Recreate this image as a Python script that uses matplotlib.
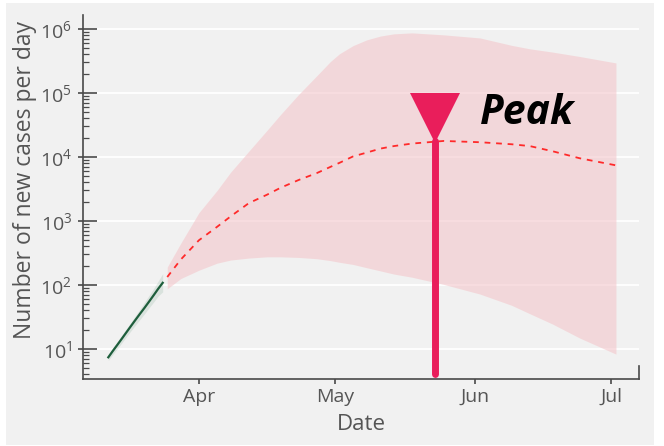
import matplotlib
matplotlib.use('Agg')
import matplotlib.pyplot as plt
import matplotlib.dates as mdates
import matplotlib.transforms as mtransforms
from matplotlib.patches import Rectangle
from matplotlib.ticker import LogLocator, LogFormatterMathtext, NullFormatter
import pandas as pd

# ---------------- data ----------------
obs_dates = pd.date_range('2020-03-12', '2020-03-24', freq='D')
obs_cases = [7.4, 9.3, 11.6, 14.5, 18.2, 22.8, 28.5, 35.5, 44, 55, 69, 87, 108]
obs_low = [6.6, 8.2, 10.1, 12.5, 15.5, 19.2, 23.7, 29, 35.5, 44, 54, 67, 78]
obs_high = [8.2, 10.4, 13.1, 16.5, 20.8, 26.3, 33.3, 42, 54, 69, 88, 115, 150]

fc_dates = pd.to_datetime([
    '2020-03-25', '2020-03-28', '2020-04-01', '2020-04-05', '2020-04-08',
    '2020-04-12', '2020-04-16', '2020-04-19', '2020-04-23', '2020-04-27',
    '2020-04-30', '2020-05-02', '2020-05-05', '2020-05-08', '2020-05-11',
    '2020-05-14', '2020-05-18', '2020-05-25', '2020-06-02', '2020-06-09',
    '2020-06-13', '2020-06-18', '2020-06-24', '2020-07-02'])
fc_median = [133, 250, 500, 810, 1180, 1900, 2570, 3300, 4370, 5600,
             7000, 8100, 10200, 11700, 13500, 14800, 16200, 17800, 17000,
             15800, 14800, 12300, 9550, 7400]
fc_low = [87, 126, 170, 219, 245, 263, 275, 275, 269, 257, 240, 226, 209,
          186, 166, 148, 132, 102, 72, 48, 35.5, 24.5, 14.8, 8.3]
fc_high = [190, 450, 1350, 3000, 5800, 12300, 26000, 46000, 95000, 186000,
           310000, 410000, 550000, 676000, 775000, 840000, 870000, 810000,
           725000, 555000, 490000, 436000, 372000, 295000]

peak_date = pd.Timestamp('2020-05-23')
peak_value = 17500
peak_top = 1e5
peak_base = 4

month_ticks = pd.to_datetime(['2020-04-01', '2020-05-01', '2020-06-01', '2020-07-01'])
x_limits = pd.to_datetime(['2020-03-06 10:00', '2020-07-07 02:00'])
y_limits = (3.39, 1.655e6)

# ---------------- style ----------------
plt.rcParams['font.family'] = ['Open Sans', 'DejaVu Sans']
plt.rcParams['mathtext.default'] = 'regular'
bg = '#f1f1f1'
txt = '#555555'
axc = '#4a4a4a'

fig = plt.figure(figsize=(6.64, 4.46), dpi=100, facecolor='white')
fig.patches.append(Rectangle((6 / 664, 1 - 445 / 446), 648 / 664, 442 / 446,
                             transform=fig.transFigure, facecolor=bg,
                             edgecolor='none', zorder=-10))
ax = fig.add_axes([83 / 664, 1 - 379 / 446, 556 / 664, 364 / 446])
ax.set_facecolor(bg)
ax.set_yscale('log')
ax.set_xlim(x_limits[0], x_limits[1])
ax.set_ylim(*y_limits)

ax.yaxis.grid(True, which='major', color='white', linewidth=1.3, zorder=0)
ax.xaxis.grid(False)
ax.set_axisbelow(True)

# observed
ax.fill_between(obs_dates, obs_low, obs_high, color='#2e7d4f', alpha=0.12,
                linewidth=0, zorder=1)
ax.plot(obs_dates, obs_cases, color='#1e5e3c', linewidth=1.6, zorder=3)

# forecast
ax.fill_between(fc_dates, fc_low, fc_high, color=(244/255, 199/255, 203/255),
                alpha=0.6, linewidth=0, zorder=1)
ax.plot(fc_dates, fc_median, color='#ff2a2a', linewidth=1.3,
        linestyle=(0, (3.2, 3.2)), zorder=3)

# peak marker
pk = '#e91e5b'
ax.plot([peak_date, peak_date], [peak_base, peak_value], color=pk,
        linewidth=5, solid_capstyle='round', zorder=4, clip_on=False)
tri_tr = mtransforms.offset_copy(ax.transData, fig=fig, x=0, y=-25, units='dots')
ax.plot([peak_date], [peak_top], marker='v', markersize=36.5, color=pk,
        markeredgewidth=0, transform=tri_tr, zorder=5, clip_on=False)
ax.annotate('Peak', xy=(peak_date, peak_top), xytext=(45, -21),
            textcoords='offset pixels', ha='left', va='center',
            fontsize=29.5, fontweight='bold', fontstyle='italic',
            family=['Open Sans', 'DejaVu Sans'], color='black', zorder=6)

# spines
ax.spines['top'].set_visible(False)
for s in ['left', 'bottom', 'right']:
    ax.spines[s].set_color(axc)
    ax.spines[s].set_linewidth(1.2)
ax.spines['right'].set_bounds(y_limits[0], 5.4)

# y ticks
ax.yaxis.set_major_locator(LogLocator(base=10, numticks=10))
ax.yaxis.set_minor_locator(LogLocator(base=10, subs=range(2, 10), numticks=20))
ax.yaxis.set_major_formatter(LogFormatterMathtext())
ax.yaxis.set_minor_formatter(NullFormatter())
ax.tick_params(axis='y', which='major', direction='in', length=10, width=1.2,
               color=axc, labelsize=14, labelcolor=txt, pad=8)
ax.tick_params(axis='y', which='minor', direction='in', length=4.3, width=0.9,
               color=axc)
sec = ax.secondary_yaxis('left')
sec.yaxis.set_major_locator(LogLocator(base=10, numticks=10))
sec.yaxis.set_minor_locator(LogLocator(base=10, subs=range(2, 10), numticks=20))
sec.tick_params(axis='y', which='major', direction='out', length=3.6, width=1.2,
                color=axc, labelleft=False)
sec.tick_params(axis='y', which='minor', length=0)
sec.spines['left'].set_visible(False)

# x ticks
ax.set_xticks(month_ticks)
ax.xaxis.set_major_formatter(mdates.DateFormatter('%b'))
ax.tick_params(axis='x', which='major', direction='out', length=3.6, width=1.2,
               color=axc, labelsize=14, labelcolor=txt, pad=3)
ax.tick_params(axis='x', which='minor', length=0)

ax.set_xlabel('Date', fontsize=16, color=txt, labelpad=6)
ax.set_ylabel('Number of new cases per day', fontsize=16.5, color=txt)
ax.yaxis.set_label_coords(-0.082, 0.547)

fig.savefig('out.png', dpi=100, facecolor='white')
